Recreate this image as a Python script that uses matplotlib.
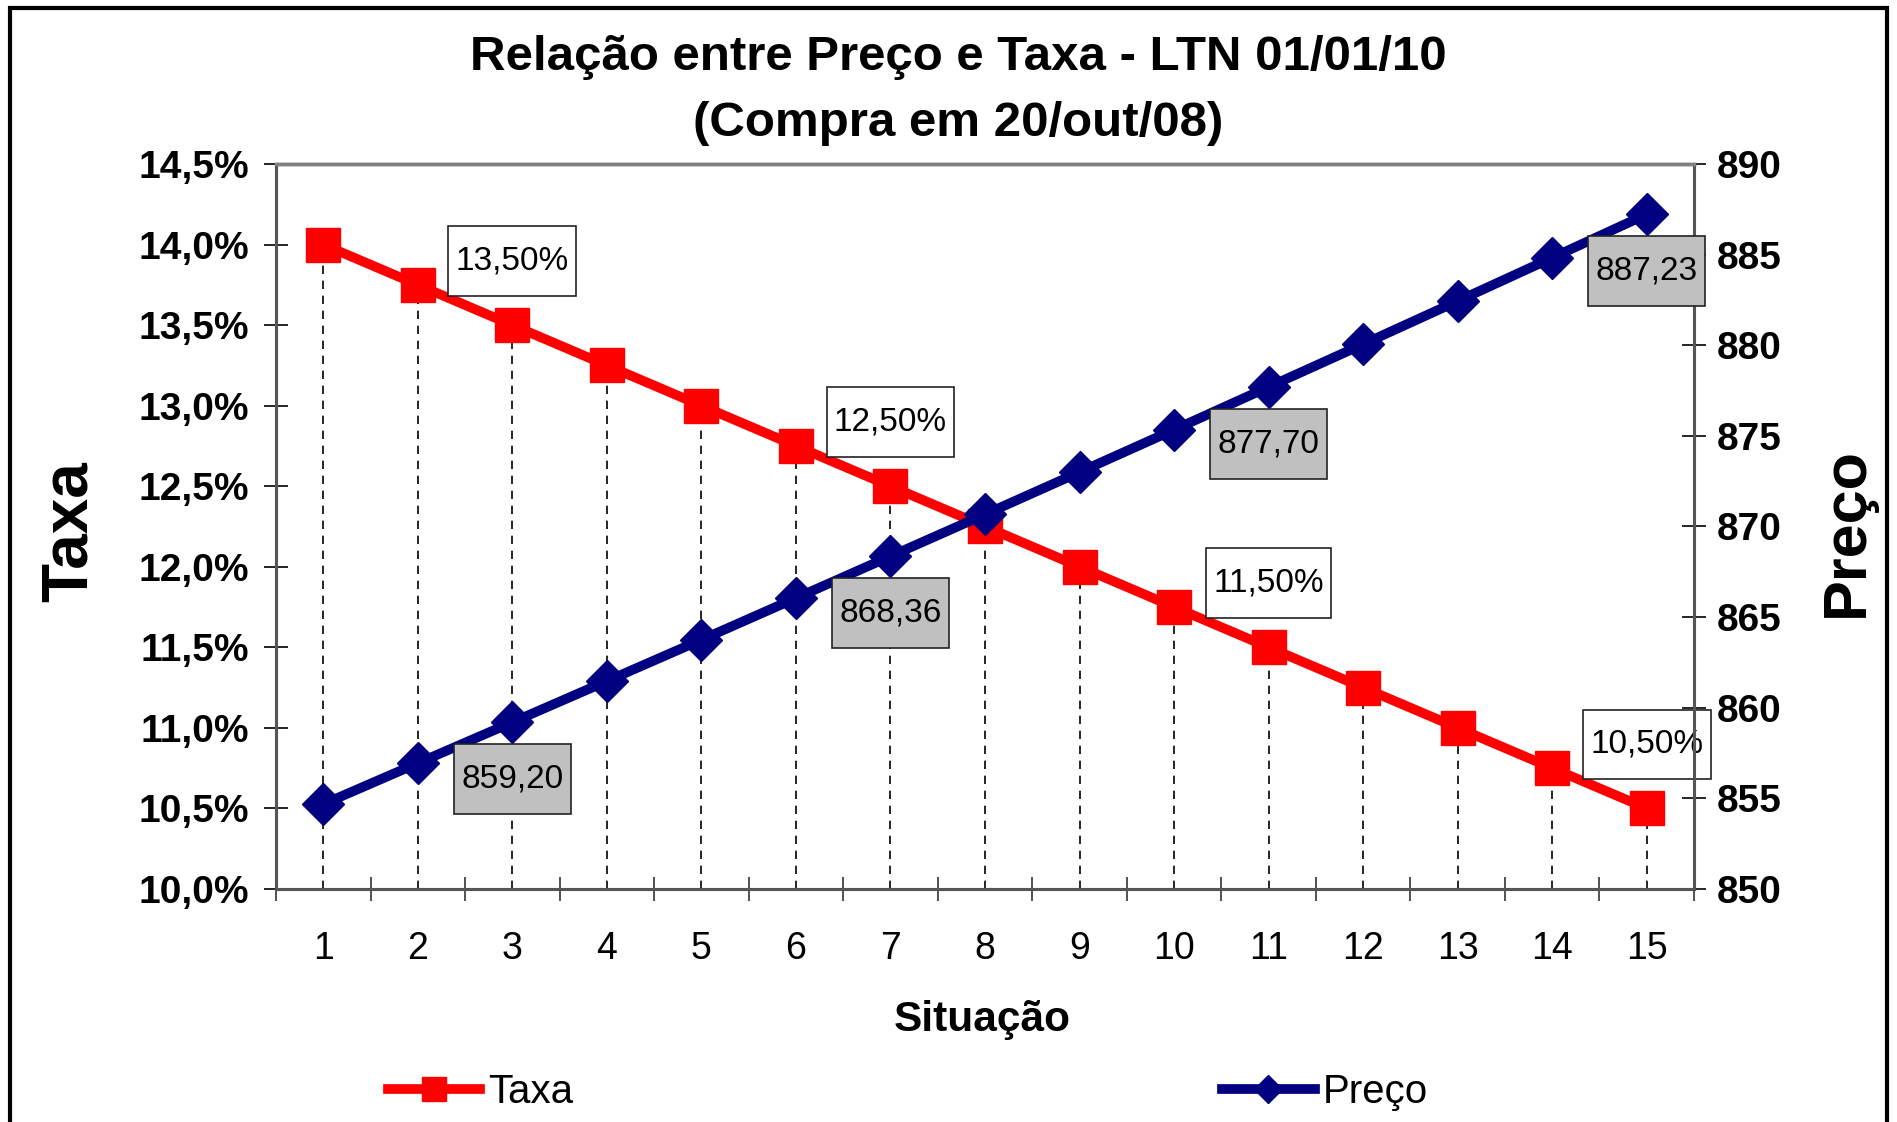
import matplotlib.pyplot as plt
from matplotlib.ticker import FuncFormatter, MultipleLocator, FixedLocator
from matplotlib.patches import Rectangle
from matplotlib.path import Path

plt.rcParams['font.family'] = ['Liberation Sans', 'DejaVu Sans']

situacao = list(range(1, 16))
taxa = [14.00, 13.75, 13.50, 13.25, 13.00, 12.75, 12.50, 12.25,
        12.00, 11.75, 11.50, 11.25, 11.00, 10.75, 10.50]
preco = [854.68, 856.94, 859.20, 861.47, 863.75, 866.05, 868.36, 870.67,
         873.00, 875.34, 877.70, 880.06, 882.44, 884.83, 887.23]
rotulos_idx = [2, 6, 10, 14]

red = '#FF0000'
navy = '#000080'
spine_c = '#555555'


def caixa(x0, y0, width, height, mutation_size):
    # caixa com folga maior na vertical do que na horizontal
    px = 0.22 * mutation_size
    py = 0.58 * mutation_size
    x0, y0 = x0 - px, y0 - py
    x1, y1 = x0 + width + 2 * px, y0 + height + 2 * py
    return Path([(x0, y0), (x1, y0), (x1, y1), (x0, y1), (x0, y0)], closed=True)


fig = plt.figure(figsize=(18.97, 11.22), dpi=100)
ax = fig.add_axes([0.1455, 0.2077, 0.893 - 0.1455, 0.8538 - 0.2077])
ax2 = ax.twinx()

# linhas tracejadas ate o eixo
ax.vlines(situacao, 10.0, taxa, colors='black', linestyles=(0, (5, 4)),
          linewidth=1.2, zorder=1)
l1, = ax.plot(situacao, taxa, color=red, lw=7, marker='s', ms=25,
              label='Taxa', zorder=3)
l2, = ax2.plot(situacao, preco, color=navy, lw=7, marker='D', ms=21,
               label='Preço', zorder=3)

ax.set_xlim(0.5, 15.5)
ax.set_ylim(10.0, 14.5)
ax2.set_ylim(850, 890)
ax.yaxis.set_major_locator(MultipleLocator(0.5))
ax2.yaxis.set_major_locator(MultipleLocator(5))
ax.yaxis.set_major_formatter(FuncFormatter(lambda v, p: f"{v:.1f}%".replace('.', ',')))

ax.set_xticks(situacao)
ax.set_xticklabels([str(s) for s in situacao])
ax.xaxis.set_minor_locator(FixedLocator([s + 0.5 for s in range(0, 16)]))
ax.tick_params(axis='x', which='major', length=0, labelsize=27, pad=30)
ax.tick_params(axis='x', which='minor', direction='inout', length=17, width=1.2, color='#333333')
ax.tick_params(axis='y', direction='inout', length=17, width=1.2, labelsize=28, pad=11)
ax2.tick_params(axis='y', direction='inout', length=17, width=1.2, labelsize=28, pad=8)
for lab in ax.get_yticklabels() + ax2.get_yticklabels():
    lab.set_fontweight('bold')

for a in (ax, ax2):
    for s in ('left', 'right', 'bottom'):
        a.spines[s].set_color(spine_c)
        a.spines[s].set_linewidth(2.2)
    a.spines['top'].set_color('#808080')
    a.spines['top'].set_linewidth(2.5)

# rotulos de dados
for i in rotulos_idx:
    ax.annotate(f"{taxa[i]:.2f}%".replace('.', ','), (situacao[i], taxa[i]),
                xytext=(0, 64), textcoords='offset pixels', ha='center', va='center',
                fontsize=24, zorder=5,
                bbox=dict(boxstyle=caixa, fc='white', ec='#222222', lw=1.2))
    ax2.annotate(f"{preco[i]:.2f}".replace('.', ','), (situacao[i], preco[i]),
                 xytext=(0, -57), textcoords='offset pixels', ha='center', va='center',
                 fontsize=24, zorder=5,
                 bbox=dict(boxstyle=caixa, fc='#C0C0C0', ec='#222222', lw=1.2))

fig.text(0.505, 1 - 58 / 1122, 'Relação entre Preço e Taxa - LTN 01/01/10',
         ha='center', va='center', fontsize=35.5, fontweight='bold')
fig.text(0.505, 1 - 124 / 1122, '(Compra em 20/out/08)',
         ha='center', va='center', fontsize=35.5, fontweight='bold')
fig.text(0.518, 1 - 1020 / 1122, 'Situação', ha='center', va='center',
         fontsize=30.5, fontweight='bold')
fig.text(70 / 1897, 1 - 532 / 1122, 'Taxa', ha='center', va='center',
         rotation=90, fontsize=46, fontweight='bold')
fig.text(1847 / 1897, 1 - 532 / 1122, 'Preço', ha='center', va='center',
         rotation=90, fontsize=44, fontweight='bold')

fig.legend([l1, l2], ['Taxa', 'Preço'], loc='center', ncol=2,
           bbox_to_anchor=(0.4785, 1 - 1092 / 1122), frameon=False,
           fontsize=29, handlelength=2.3, handletextpad=0.2,
           columnspacing=16.1, markerscale=0.7)

# moldura da figura
fig.patches.append(Rectangle((10 / 1897, -0.05), 1 - 20 / 1897, 1.05 - 8 / 1122,
                             transform=fig.transFigure, fill=False,
                             ec='black', lw=3, zorder=0))

fig.savefig('out.png', dpi=100)
